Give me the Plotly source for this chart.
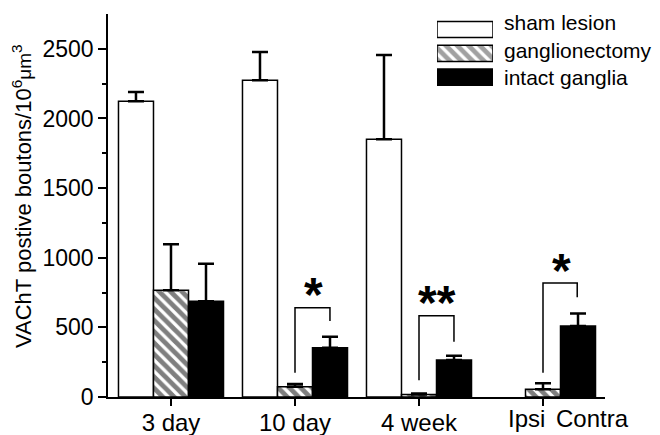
import plotly.graph_objects as go

# ---- data ----
categories = ["3 day", "10 day", "4 week"]
xpos = [0, 1, 2, 3]
sham = [2124, 2274, 1850, None]
sham_err = [66, 204, 606, None]
gang = [766, 73, 18, 55]
gang_err = [330, 20, 8, 43]
intact = [687, 353, 265, 509]
intact_err = [270, 79, 31, 91]
side_labels = ["Ipsi", "Contra"]
series_names = ["sham lesion", "ganglionectomy", "intact ganglia"]
yticks = [0, 500, 1000, 1500, 2000, 2500]

FONT = "Liberation Sans, Arial, sans-serif"
PAT = dict(shape="\\", fgcolor="black", bgcolor="white", size=8, solidity=0.6)

fig = go.Figure()

def err(e):
    return dict(type="data", array=e, arrayminus=[0] * len(e), symmetric=False,
                color="black", thickness=2.5, width=8)

fig.add_trace(go.Bar(x=xpos, y=sham, name=series_names[0], error_y=err(sham_err),
                     marker=dict(color="white", line=dict(color="black", width=1.5))))
fig.add_trace(go.Bar(x=xpos, y=gang, name=series_names[1], error_y=err(gang_err),
                     marker=dict(color="white", line=dict(color="black", width=1.5),
                                 pattern=PAT)))
fig.add_trace(go.Bar(x=xpos, y=intact, name=series_names[2], error_y=err(intact_err),
                     marker=dict(color="black", line=dict(color="black", width=1.5))))

# legend swatches drawn on an overlay axis
fig.add_trace(go.Bar(x=[1, 1, 1], y=[2, 1, 0], orientation="h", base=0, width=0.68,
                     xaxis="x2", yaxis="y2", hoverinfo="skip",
                     marker=dict(color=["white", "white", "black"],
                                 line=dict(color="black", width=1.5),
                                 pattern=dict(shape=["", "\\", ""], fgcolor="black",
                                              bgcolor="white", size=8, solidity=0.6))))

shapes = []
def bracket(xl, xr, ytop, yl, yr):
    return dict(type="path", xref="x", yref="y",
                path=f"M {xl} {yl} L {xl} {ytop} L {xr} {ytop} L {xr} {yr}",
                line=dict(color="black", width=1.5))
shapes.append(bracket(1.0, 1.282, 641, 174, 545))
shapes.append(bracket(2.0, 2.282, 583, 121, 397))
shapes.append(bracket(3.0, 3.276, 818, 174, 716))

annotations = []
for txt, x, y in [("*", 1.153, 782), ("**", 2.145, 720), ("*", 3.153, 948)]:
    annotations.append(dict(text=f"<b>{txt}</b>", x=x, y=y, xref="x", yref="y",
                            showarrow=False, yanchor="middle", yshift=-6,
                            font=dict(family=FONT, size=48, color="black")))
for txt, xp in zip(side_labels, [526, 592]):
    annotations.append(dict(text=txt, x=(xp - 171) / 124, xref="x", y=-0.056, yref="paper",
                            showarrow=False, yanchor="middle", xanchor="center",
                            font=dict(family=FONT, size=24, color="black")))
for i, name in enumerate(series_names):
    annotations.append(dict(text=name, x=(502 - 108) / 497, xref="paper",
                            y=[(397 - 22.5) / 383, (397 - 50.5) / 383, (397 - 77.5) / 383][i],
                            yref="paper", showarrow=False, xanchor="left", yanchor="middle",
                            font=dict(family=FONT, size=21, color="black")))
annotations.append(dict(
    text="VAChT postive boutons/10<sup>6</sup><span style='font-size:19px'>μm</span><sup>3</sup>",
    x=(22 - 108) / 497, xref="paper", y=(397 - 196) / 383, yref="paper", textangle=-90,
    showarrow=False, xanchor="center", yanchor="middle",
    font=dict(family=FONT, size=22, color="black")))

# page body has an 8px margin, so the figure is shrunk by 8px and margins adjusted
fig.update_layout(
    width=652, height=427,
    margin=dict(l=100, r=55, t=6, b=38, autoexpand=False),
    paper_bgcolor="white", plot_bgcolor="white",
    barmode="group", bargap=0.153, bargroupgap=0,
    showlegend=False,
    shapes=shapes, annotations=annotations,
    font=dict(family=FONT, color="black"),
    xaxis=dict(range=[-0.508, 3.5], tickvals=xpos[:3], ticktext=categories,
               ticks="outside", ticklen=7, tickwidth=1.5, tickcolor="black",
               ticklabelstandoff=-4,
               minor=dict(tickvals=[3], ticks="outside", ticklen=7, tickwidth=1.5,
                          tickcolor="black"),
               showline=True, linecolor="black", linewidth=1.5,
               showgrid=False, zeroline=False, automargin=False,
               tickfont=dict(family=FONT, size=24, color="black")),
    yaxis=dict(range=[0, 2750], tickvals=yticks,
               ticks="outside", ticklen=8, tickwidth=1.5, tickcolor="black",
               minor=dict(tickvals=[250, 750, 1250, 1750, 2250], ticks="outside",
                          ticklen=4, tickwidth=1.5, tickcolor="black"),
               showline=True, linecolor="black", linewidth=1.5,
               showgrid=False, zeroline=False, automargin=False,
               tickfont=dict(family=FONT, size=23, color="black")),
    xaxis2=dict(domain=[(437 - 108) / 497, (493 - 108) / 497], range=[0, 1],
                anchor="y2", visible=False, fixedrange=True, automargin=False),
    yaxis2=dict(domain=[(397 - 89) / 383, 1.0], range=[-0.5, 2.65],
                anchor="x2", visible=False, fixedrange=True, automargin=False),
)

fig.write_html("out.html")
